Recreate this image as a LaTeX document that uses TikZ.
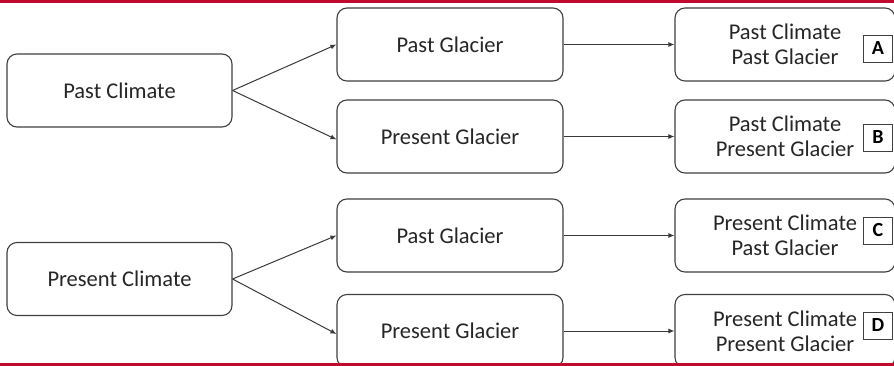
\documentclass[tikz,border=0pt]{standalone}
\usepackage{fontspec}
\setmainfont{Carlito}
\usetikzlibrary{arrows.meta}
\definecolor{rule}{RGB}{192,10,48}
\definecolor{ink}{RGB}{64,64,64}
\tikzset{
  box/.style={draw=ink, line width=1.1pt, rounded corners=10pt, fill=white,
    minimum height=73pt, align=center, inner sep=0pt, font=\fontsize{22.5}{25}\selectfont, text=black!85},
  leftbox/.style={box, minimum width=225pt},
  midbox/.style={box, minimum width=226pt},
  rightbox/.style={box, minimum width=220pt},
  tag/.style={draw=ink, line width=0.9pt, fill=white, minimum width=29pt, minimum height=27pt,
    inner sep=0pt, font=\bfseries\fontsize{20}{22}\selectfont},
  link/.style={draw=ink!90!black, line width=1pt, -{Latex[length=6pt,width=5pt]}},
}
\begin{document}
\begin{tikzpicture}[x=1pt, y=-1pt]
  \clip (0,0) rectangle (894,366);
  \fill[white] (0,0) rectangle (894,366);

  % climate boxes
  \node[leftbox] (pc)  at (119.5, 90.5) {Past Climate};
  \node[leftbox] (prc) at (119.5, 279)  {Present Climate};

  % glacier boxes
  \node[midbox] (g1) at (450, 44.5)  {Past Glacier};
  \node[midbox] (g2) at (450, 136.5) {Present Glacier};
  \node[midbox] (g3) at (450, 235.5) {Past Glacier};
  \node[midbox] (g4) at (450, 331)   {Present Glacier};

  % outcome boxes
  \node[rightbox] (r1) at (785, 44.5)  {Past Climate\\Past Glacier};
  \node[rightbox] (r2) at (785, 136.5) {Past Climate\\Present Glacier};
  \node[rightbox] (r3) at (785, 235.5) {Present Climate\\Past Glacier};
  \node[rightbox] (r4) at (785, 331)   {Present Climate\\Present Glacier};

  % letter tags
  \node[tag] (ta) at (878, 48.5)  {A};
  \node[tag] (tb) at (878, 137.5) {B};
  \node[tag] (tc) at (878, 230.5) {C};
  \node[tag] (td) at (878, 325.5) {D};

  % connectors
  \draw[link] (pc.east)  -- (g1.west);
  \draw[link] (pc.east)  -- ([yshift=-3pt]g2.west);
  \draw[link] (prc.east) -- (g3.west);
  \draw[link] (prc.east) -- ([yshift=-3pt]g4.west);
  \draw[link] (g1.east) -- (r1.west);
  \draw[link] (g2.east) -- (r2.west);
  \draw[link] (g3.east) -- (r3.west);
  \draw[link] (g4.east) -- (r4.west);

  % top and bottom rules
  \draw[rule, line width=2.8pt] (0,1.4) -- (894,1.4);
  \draw[rule, line width=3pt] (0,364.5) -- (894,364.5);
\end{tikzpicture}
\end{document}
